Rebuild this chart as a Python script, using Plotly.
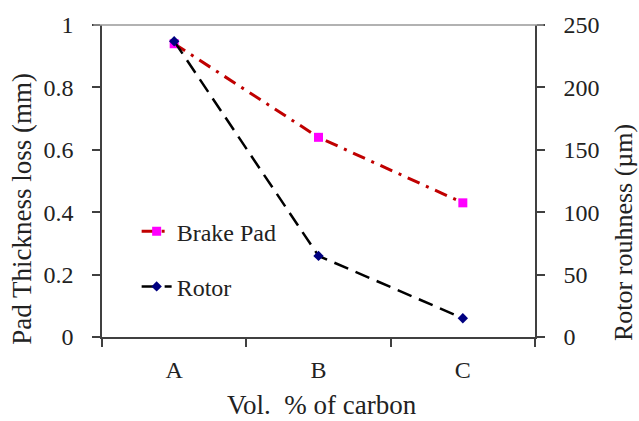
import plotly.graph_objects as go

categories = ["A", "B", "C"]
brake_pad = [0.94, 0.64, 0.43]
rotor = [237, 65, 15]
left_ticks = [0, 0.2, 0.4, 0.6, 0.8, 1]
left_tick_text = ["0", "0.2", "0.4", "0.6", "0.8", "1"]
right_ticks = [0, 50, 100, 150, 200, 250]

FONT = "Liberation Serif"
AX = "#404040"
TXT = "#222222"
TICKF = dict(family=FONT, size=24, color=TXT)

fig = go.Figure()
fig.add_trace(go.Scatter(
    x=categories, y=brake_pad, name="Brake Pad", mode="lines+markers",
    line=dict(color="#C00000", width=3, dash="13px,7px,3px,7px"),
    marker=dict(symbol="square", color="#FF00FF", size=9),
    legendgroup="a", yaxis="y"))
fig.add_trace(go.Scatter(
    x=categories, y=rotor, name="Rotor", mode="lines+markers",
    line=dict(color="black", width=2.5, dash="15px,8px"),
    marker=dict(symbol="diamond", color="#000080", size=8),
    legendgroup="b", yaxis="y2"))

common = dict(showgrid=False, zeroline=False, showline=True, linecolor=AX,
              linewidth=1.5, tickcolor=AX, tickwidth=1.5, ticklen=8)

fig.update_layout(
    width=639, height=421,
    margin=dict(l=102, r=104, t=16, b=84),
    paper_bgcolor="white", plot_bgcolor="white",
    font=dict(family=FONT, size=24, color=TXT),
    showlegend=True,
    legend=dict(x=0.08, y=0.41, xanchor="left", yanchor="top",
                bgcolor="rgba(0,0,0,0)", traceorder="grouped",
                tracegroupgap=21, font=dict(family=FONT, size=24, color=TXT)),
    xaxis=dict(**common, type="category", range=[-0.5, 2.5],
               tickson="boundaries", ticks="outside", ticklabelstandoff=10,
               tickfont=TICKF),
    xaxis2=dict(**common, type="category", range=[-0.5, 2.5],
                tickson="boundaries", ticks="inside", overlaying="x",
                showticklabels=False, side="bottom", anchor="y",
                categoryorder="array", categoryarray=categories),
    yaxis=dict(**common, range=[0, 1], tickvals=left_ticks,
               ticktext=left_tick_text, ticks="outside",
               ticklabelstandoff=14, tickfont=TICKF),
    yaxis2=dict(**common, range=[0, 250], tickvals=right_ticks,
                ticks="outside", side="right", overlaying="y",
                ticklabelstandoff=14, tickfont=TICKF),
    yaxis3=dict(**common, range=[0, 1], tickvals=left_ticks, ticks="inside",
                overlaying="y", side="left", showticklabels=False),
    yaxis4=dict(**common, range=[0, 250], tickvals=right_ticks, ticks="inside",
                overlaying="y", side="right", showticklabels=False),
)
fig.add_shape(type="line", xref="paper", yref="paper", x0=-0.02, x1=1.02,
              y0=1, y1=1, line=dict(color="#999999", width=1.5))

fig.add_annotation(text="Pad Thickness loss (mm)", xref="paper", yref="paper",
                   x=(22 - 102) / 433, y=(337 - 205) / 321, textangle=-90,
                   showarrow=False, font=dict(family=FONT, size=27, color=TXT),
                   xanchor="center", yanchor="middle")
fig.add_annotation(text="Rotor rouhness (µm)", xref="paper", yref="paper",
                   x=(623 - 102) / 433, y=(337 - 230) / 321, textangle=-90,
                   showarrow=False, font=dict(family=FONT, size=26, color=TXT),
                   xanchor="center", yanchor="middle")
fig.add_annotation(text="Vol.  % of carbon", xref="paper", yref="paper",
                   x=(322 - 102) / 433, y=-(407 - 337) / 321, showarrow=False,
                   font=dict(family=FONT, size=27, color=TXT),
                   xanchor="center", yanchor="middle")

fig.write_html("out.html")
